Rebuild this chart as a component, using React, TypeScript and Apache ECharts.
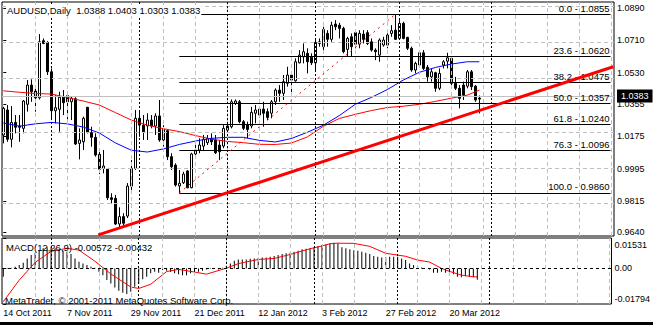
import React, { useEffect, useRef } from 'react';
import * as echarts from 'echarts';

// ---------- data ----------
const opens = [1.0183,1.0322,1.0159,1.0253,1.0233,1.0220,1.0354,1.0461,1.0428,1.0390,1.0708,1.0699,1.0535,1.0318,1.0326,1.0393,1.0402,1.0368,1.0385,1.0136,1.0145,1.0337,1.0196,1.0170,1.0075,0.9997,0.9993,0.9833,0.9830,0.9687,0.9728,0.9731,0.9898,0.9997,1.0276,1.0238,1.0233,1.0266,1.0233,1.0289,1.0155,1.0207,1.0062,1.0015,0.9899,0.9917,0.9982,0.9889,1.0077,1.0099,1.0121,1.0140,1.0164,1.0155,1.0127,1.0121,1.0210,1.0229,1.0359,1.0368,1.0257,1.0238,1.0233,1.0304,1.0294,1.0327,1.0313,1.0304,1.0368,1.0433,1.0415,1.0471,1.0517,1.0485,1.0585,1.0619,1.0638,1.0616,1.0585,1.0693,1.0675,1.0749,1.0716,1.0801,1.0795,1.0777,1.0660,1.0730,1.0753,1.0689,1.0745,1.0753,1.0702,1.0656,1.0628,1.0684,1.0684,1.0749,1.0767,1.0721,1.0805,1.0727,1.0666,1.0545,1.0573,1.0641,1.0560,1.0507,1.0530,1.0443,1.0573,1.0594,1.0610,1.0471,1.0443,1.0461,1.0455,1.0535,1.0455,1.0388];
const highs = [1.0340,1.0350,1.0344,1.0294,1.0294,1.0378,1.0489,1.0493,1.0461,1.0745,1.0721,1.0706,1.0554,1.0405,1.0424,1.0433,1.0424,1.0400,1.0393,1.0220,1.0285,1.0340,1.0229,1.0192,1.0090,1.0099,0.9997,0.9858,0.9849,0.9780,0.9747,0.9915,1.0043,1.0322,1.0313,1.0294,1.0304,1.0294,1.0304,1.0378,1.0238,1.0210,1.0081,1.0025,0.9988,0.9978,0.9988,1.0084,1.0145,1.0164,1.0183,1.0183,1.0192,1.0183,1.0155,1.0238,1.0257,1.0381,1.0381,1.0378,1.0266,1.0257,1.0340,1.0350,1.0340,1.0368,1.0331,1.0378,1.0443,1.0461,1.0517,1.0563,1.0535,1.0610,1.0656,1.0693,1.0666,1.0638,1.0712,1.0721,1.0786,1.0767,1.0814,1.0823,1.0808,1.0786,1.0730,1.0749,1.0764,1.0767,1.0767,1.0767,1.0721,1.0666,1.0721,1.0730,1.0749,1.0795,1.0855,1.0823,1.0814,1.0730,1.0675,1.0591,1.0656,1.0656,1.0573,1.0554,1.0535,1.0554,1.0600,1.0641,1.0619,1.0507,1.0461,1.0480,1.0545,1.0545,1.0461,1.0403];
const lows = [1.0136,1.0145,1.0114,1.0192,1.0145,1.0192,1.0313,1.0368,1.0313,1.0381,1.0689,1.0517,1.0266,1.0248,1.0201,1.0294,1.0270,1.0266,1.0127,1.0047,1.0099,1.0192,1.0118,1.0062,0.9965,0.9969,0.9821,0.9802,0.9681,0.9663,0.9669,0.9720,0.9867,0.9988,1.0173,1.0155,1.0155,1.0220,1.0183,1.0145,1.0118,1.0043,0.9988,0.9895,0.9858,0.9910,0.9886,0.9886,1.0053,1.0081,1.0099,1.0127,1.0127,1.0077,1.0043,1.0109,1.0201,1.0220,1.0350,1.0248,1.0210,1.0164,1.0220,1.0248,1.0281,1.0229,1.0266,1.0276,1.0350,1.0368,1.0378,1.0452,1.0415,1.0480,1.0582,1.0582,1.0526,1.0573,1.0545,1.0675,1.0656,1.0675,1.0702,1.0767,1.0721,1.0638,1.0619,1.0619,1.0666,1.0666,1.0693,1.0684,1.0647,1.0600,1.0591,1.0675,1.0666,1.0730,1.0712,1.0716,1.0716,1.0656,1.0535,1.0526,1.0563,1.0545,1.0480,1.0480,1.0424,1.0433,1.0554,1.0554,1.0461,1.0433,1.0331,1.0378,1.0443,1.0433,1.0368,1.0303];
const closes = [1.0331,1.0159,1.0253,1.0226,1.0226,1.0372,1.0461,1.0424,1.0390,1.0702,1.0693,1.0535,1.0318,1.0335,1.0393,1.0363,1.0368,1.0387,1.0133,1.0155,1.0276,1.0196,1.0170,1.0071,0.9992,1.0010,0.9833,0.9824,0.9687,0.9728,0.9691,0.9898,0.9997,1.0276,1.0238,1.0201,1.0266,1.0233,1.0289,1.0155,1.0214,1.0062,1.0006,0.9904,0.9914,0.9965,0.9889,1.0077,1.0099,1.0127,1.0159,1.0164,1.0145,1.0084,1.0090,1.0220,1.0233,1.0368,1.0372,1.0257,1.0220,1.0214,1.0309,1.0322,1.0327,1.0304,1.0281,1.0368,1.0433,1.0415,1.0480,1.0517,1.0489,1.0591,1.0628,1.0647,1.0591,1.0585,1.0699,1.0702,1.0771,1.0716,1.0795,1.0786,1.0777,1.0647,1.0721,1.0675,1.0689,1.0749,1.0716,1.0693,1.0656,1.0647,1.0712,1.0712,1.0740,1.0764,1.0716,1.0805,1.0721,1.0666,1.0545,1.0582,1.0641,1.0554,1.0507,1.0535,1.0443,1.0526,1.0591,1.0613,1.0471,1.0443,1.0387,1.0405,1.0535,1.0452,1.0378,1.0383];

const maBars = [0,4,8,12,16,20,24,28,32,36,40,44,48,52,56,60,64,68,72,76,80,84,88,92,96,100,104,108,112,116,119];
const redMA = [1.0429,1.0421,1.0414,1.0411,1.0392,1.0372,1.0350,1.0308,1.0266,1.0238,1.0218,1.0202,1.0180,1.0160,1.0147,1.0140,1.0131,1.0130,1.0138,1.0172,1.0231,1.0275,1.0298,1.0319,1.0336,1.0343,1.0354,1.0370,1.0388,1.0405,1.0433];
const blueMA = [1.0250,1.0232,1.0245,1.0253,1.0245,1.0227,1.0194,1.0139,1.0098,1.0088,1.0105,1.0130,1.0149,1.0164,1.0170,1.0170,1.0153,1.0144,1.0163,1.0198,1.0237,1.0291,1.0354,1.0392,1.0436,1.0489,1.0532,1.0559,1.0578,1.0591,1.0591];

const macdHist = [-0.0042,-0.0003,0.0003,0.0008,0.0017,0.0029,0.0050,0.0067,0.0079,0.0092,0.0101,0.0106,0.0109,0.0101,0.0096,0.0089,0.0084,0.0072,0.0050,0.0034,0.0025,0.0017,0.0008,0.0003,-0.0017,-0.0034,-0.0059,-0.0076,-0.0096,-0.0113,-0.0123,-0.0129,-0.0118,-0.0092,-0.0076,-0.0055,-0.0042,-0.0025,-0.0017,-0.0022,-0.0008,-0.0012,-0.0018,-0.0025,-0.0029,-0.0034,-0.0034,-0.0025,-0.0022,-0.0017,-0.0012,-0.0005,-0.0003,-0.0003,-0.0005,0.0003,0.0012,0.0025,0.0039,0.0045,0.0045,0.0045,0.0049,0.0050,0.0054,0.0055,0.0055,0.0059,0.0062,0.0067,0.0072,0.0076,0.0079,0.0084,0.0089,0.0096,0.0099,0.0101,0.0106,0.0113,0.0118,0.0121,0.0126,0.0129,0.0126,0.0106,0.0101,0.0096,0.0092,0.0089,0.0084,0.0079,0.0072,0.0062,0.0059,0.0055,0.0055,0.0059,0.0059,0.0059,0.0050,0.0042,0.0025,0.0017,0.0012,0.0005,-0.0001,-0.0005,-0.0022,-0.0022,-0.0017,-0.0022,-0.0022,-0.0029,-0.0042,-0.0045,-0.0039,-0.0042,-0.0045,-0.00572];
const signalBars = [0,4,8,12,16,19,23,27,32,34,37,41,44,47,51,56,59,64,68,72,77,80,82,84,88,92,96,101,104,107,110,112,115,118,119];
const signalValues = [-0.0168,-0.0059,0.0030,0.0086,0.0101,0.0092,0.0036,-0.0028,-0.0094,-0.0101,-0.0080,-0.0016,-0.0005,-0.0015,-0.0029,0.0001,0.0024,0.0045,0.0050,0.0070,0.0099,0.0113,0.0124,0.0127,0.0126,0.0111,0.0076,0.0061,0.0042,0.0032,0.0000,-0.0015,-0.0034,-0.0042,-0.00432];

const fibLevels = ['0.0','23.6','38.2','50.0','61.8','76.3','100.0'];
const fibPrices = [1.0855,1.0620,1.0475,1.0357,1.0240,1.0096,0.9860];
const fibStartBar = 44;
const fibEndBar = 151.8;
const fibAnchorBars = [44, 98];
const fibAnchorPrices = [0.9860, 1.0855];

const trendBars = [23.75, 152.5];
const trendPrices = [0.9626, 1.0563];

const bidPrice = 1.0383;
const priceTicks = [1.0890,1.0710,1.0530,1.0355,1.0175,0.9995,0.9815,0.9640];
const macdTicks = [0.01531, 0, -0.01794];
const macdTickLabels = ['0.01531','0.00','-0.01794'];
const dateBars = [0,16,32,48,64,80,96,112];
const dateLabels = ['14 Oct 2011','7 Nov 2011','29 Nov 2011','21 Dec 2011','12 Jan 2012','3 Feb 2012','27 Feb 2012','20 Mar 2012'];
const gridBars = [8,16,24,32,40,48,56,64,72,80,88,96,104,112,120,128,136,144,152];
const monthBars = [12,34,56,78,99,122];

const titleText = 'AUDUSD,Daily  1.0388 1.0403 1.0303 1.0383';
const macdTitle = 'MACD(12,26,9) -0.00572 -0.00432';
const watermark = 'MetaTrader, \u00a9 2001-2011 MetaQuotes Software Corp.';

const X_MIN = -0.325;
const X_MAX = 152.675;
const FONT = '"Liberation Sans", Arial, sans-serif';

function buildOption(): any {
  const gray = { color: '#c0c0c0', width: 1, type: [4, 3] };
  const sep = { color: '#000', width: 1, type: [2, 2] };
  const noLabel = { show: false };
  const mainGrid = [
    ...priceTicks.map((p) => ({ yAxis: p, lineStyle: gray, label: noLabel })),
    ...gridBars.map((b) => ({ xAxis: b, lineStyle: gray, label: noLabel })),
    ...monthBars.map((b) => ({ xAxis: b, lineStyle: sep, label: noLabel })),
  ];
  const macdGrid = [
    ...gridBars.map((b) => ({ xAxis: b, lineStyle: gray, label: noLabel })),
    ...monthBars.map((b) => ({ xAxis: b, lineStyle: sep, label: noLabel })),
    { yAxis: 0, lineStyle: { color: '#000', width: 1, type: [3, 3] }, label: noLabel },
  ];
  const fibLines: any[] = fibPrices.map((p, k) => [
    {
      coord: [fibStartBar, p],
      lineStyle: { color: '#000', width: 1, type: 'solid' },
      label: {
        show: true,
        position: 'insideEndTop',
        formatter: fibLevels[k] + ' - ' + p.toFixed(4),
        color: '#000',
        fontSize: 9.5,
        fontFamily: FONT,
        distance: 1,
      },
    },
    { coord: [fibEndBar, p] },
  ]);
  fibLines.push([
    {
      coord: [fibAnchorBars[0], fibAnchorPrices[0]],
      lineStyle: { color: '#ff0000', width: 1, type: [2, 4] },
      label: noLabel,
    },
    { coord: [fibAnchorBars[1], fibAnchorPrices[1]] },
  ]);
  fibLines.push({
    yAxis: bidPrice,
    lineStyle: { color: '#c0c0c0', width: 1, type: 'solid' },
    label: {
      show: true,
      position: 'end',
      formatter: bidPrice.toFixed(4),
      color: '#fff',
      backgroundColor: '#000',
      padding: [2, 4, 2, 4],
      fontSize: 9,
      fontFamily: FONT,
      distance: 3,
    },
  });

  return {
    animation: false,
    backgroundColor: '#fff',
    textStyle: { fontFamily: FONT },
    grid: [
      { left: 2, top: 2, width: 612, height: 234, show: true, borderColor: '#000', borderWidth: 1, backgroundColor: 'transparent' },
      { left: 2, top: 238, width: 612, height: 66, show: true, borderColor: '#000', borderWidth: 1, backgroundColor: 'transparent' },
    ],
    xAxis: [
      {
        type: 'value', gridIndex: 0, min: X_MIN, max: X_MAX,
        axisLine: { show: false }, axisTick: { show: false }, axisLabel: { show: false }, splitLine: { show: false },
      },
      {
        type: 'value', gridIndex: 1, min: X_MIN, max: X_MAX,
        axisLine: { show: false }, axisTick: { show: false }, splitLine: { show: false },
        axisLabel: {
          show: true,
          customValues: dateBars,
          formatter: (v: number) => {
            const k = dateBars.indexOf(Math.round(v));
            return k >= 0 ? dateLabels[k] : '';
          },
          align: 'left',
          margin: 4,
          fontSize: 9,
          color: '#000',
          fontFamily: FONT,
          showMinLabel: true,
          showMaxLabel: true,
        },
      },
    ],
    yAxis: [
      {
        type: 'value', gridIndex: 0, position: 'right', min: 0.9620, max: 1.0924,
        axisLine: { show: false },
        axisTick: { show: true, customValues: priceTicks, length: 3, lineStyle: { color: '#000' } },
        axisLabel: {
          show: true,
          customValues: priceTicks,
          formatter: (v: number) => v.toFixed(4),
          margin: 3,
          fontSize: 9,
          color: '#000',
          fontFamily: FONT,
        },
        splitLine: { show: false },
      },
      {
        type: 'value', gridIndex: 1, position: 'right', min: -0.01794, max: 0.01531,
        axisLine: { show: false },
        axisTick: { show: true, customValues: macdTicks, length: 3, lineStyle: { color: '#000' } },
        axisLabel: {
          show: true,
          customValues: macdTicks,
          formatter: (v: number) => {
            let k = 0;
            let best = Infinity;
            macdTicks.forEach((t, j) => {
              const d = Math.abs(t - v);
              if (d < best) { best = d; k = j; }
            });
            if (k === 0) return '{t|' + macdTickLabels[k] + '}';
            if (k === 2) return '{b|' + macdTickLabels[k] + '}';
            return macdTickLabels[k];
          },
          rich: {
            t: { padding: [14, 0, 0, 0], fontSize: 9, color: '#000', fontFamily: FONT },
            b: { padding: [0, 0, 10, 0], fontSize: 9, color: '#000', fontFamily: FONT },
          },
          margin: 3,
          fontSize: 9,
          color: '#000',
          fontFamily: FONT,
        },
        splitLine: { show: false },
      },
    ],
    series: [
      {
        name: 'gridMain', type: 'line', xAxisIndex: 0, yAxisIndex: 0, data: [], z: 1, silent: true,
        markLine: { silent: true, symbol: ['none', 'none'], animation: false, data: mainGrid },
      },
      {
        name: 'gridMacd', type: 'line', xAxisIndex: 1, yAxisIndex: 1, data: [], z: 1, silent: true,
        markLine: { silent: true, symbol: ['none', 'none'], animation: false, data: macdGrid },
      },
      {
        name: 'fib', type: 'line', xAxisIndex: 0, yAxisIndex: 0, data: [], z: 2, silent: true,
        markLine: { silent: true, symbol: ['none', 'none'], animation: false, data: fibLines },
      },
      {
        name: 'AUDUSD', type: 'candlestick', xAxisIndex: 0, yAxisIndex: 0, z: 3,
        barWidth: 3,
        data: opens.map((o, i) => [i, o, closes[i], lows[i], highs[i]]),
        itemStyle: { color: '#fff', color0: '#000', borderColor: '#000', borderColor0: '#000', borderWidth: 1 },
      },
      {
        name: 'MA red', type: 'line', xAxisIndex: 0, yAxisIndex: 0, z: 4, symbol: 'none',
        data: maBars.map((b, k) => [b, redMA[k]]),
        lineStyle: { color: '#ff0000', width: 1 },
      },
      {
        name: 'MA blue', type: 'line', xAxisIndex: 0, yAxisIndex: 0, z: 4, symbol: 'none',
        data: maBars.map((b, k) => [b, blueMA[k]]),
        lineStyle: { color: '#0000ff', width: 1 },
      },
      {
        name: 'Trend', type: 'line', xAxisIndex: 0, yAxisIndex: 0, z: 5, symbol: 'none', clip: true,
        data: trendBars.map((b, k) => [b, trendPrices[k]]),
        lineStyle: { color: '#ff0000', width: 3 },
      },
      {
        name: 'MACD', type: 'bar', xAxisIndex: 1, yAxisIndex: 1, z: 3, barWidth: 1,
        data: macdHist.map((v, i) => [i, v]),
        itemStyle: { color: '#000' },
      },
      {
        name: 'Signal', type: 'line', xAxisIndex: 1, yAxisIndex: 1, z: 4, symbol: 'none',
        data: signalBars.map((b, k) => [b, signalValues[k]]),
        lineStyle: { color: '#ff0000', width: 1 },
      },
    ],
    graphic: [
      {
        type: 'text', left: 6, top: 5, z: 100,
        style: { text: titleText, fill: '#000', font: '9.5px ' + FONT, backgroundColor: '#fff', padding: [0, 1, 1, 1] },
      },
      {
        type: 'text', left: 6, top: 242, z: 100,
        style: { text: macdTitle, fill: '#000', font: '9.5px ' + FONT },
      },
      {
        type: 'text', left: 5, top: 295, z: 100,
        style: { text: watermark, fill: '#000', font: '9.5px ' + FONT },
      },
      {
        type: 'rect', left: 0, top: 322, z: 100,
        shape: { width: 653, height: 3 },
        style: { fill: '#000' },
      },
    ],
  };
}

export default function App() {
  const ref = useRef<HTMLDivElement>(null);
  useEffect(() => {
    if (!ref.current) return;
    const chart = echarts.init(ref.current, null, { renderer: 'svg' });
    chart.setOption(buildOption());
    return () => chart.dispose();
  }, []);
  return (
    <div
      ref={ref}
      style={{ position: 'fixed', left: 0, top: 0, width: 653, height: 325, background: '#fff' }}
    />
  );
}
